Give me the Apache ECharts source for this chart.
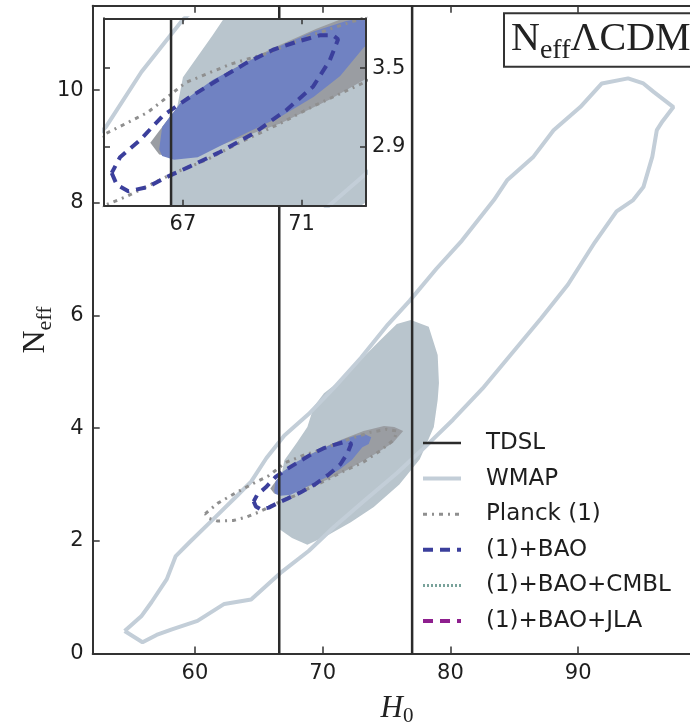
<!DOCTYPE html>
<html><head><meta charset="utf-8">
<script src="https://cdn.jsdelivr.net/npm/echarts@6/dist/echarts.min.js"></script>
<style>html,body{margin:0;padding:0;background:#fff}#c{width:690px;height:728px}</style>
</head><body><div id="c"></div>
<script>
// ---- data (H0, Neff) ----
const tdslH0 = [66.6, 77.0];

const wmapContour = [
  [54.5,0.40],[55.9,0.20],[57.0,0.33],[58.2,0.43],[60.2,0.58],[62.3,0.88],[64.4,0.96],
  [66.8,1.45],[68.9,1.82],[70.9,2.25],[73.3,2.72],[75.8,3.20],[77.8,3.62],[80.2,4.15],
  [82.5,4.70],[84.7,5.30],[87.1,5.95],[89.2,6.55],[91.3,7.30],[93.0,7.85],[94.3,8.05],
  [95.1,8.28],[95.8,8.82],[96.15,9.29],[96.6,9.45],[97.45,9.70],[95.9,9.97],[95.1,10.12],
  [93.9,10.21],[91.85,10.12],[90.16,9.70],[88.07,9.29],[86.5,8.82],[84.43,8.40],[83.4,8.05],
  [80.9,7.33],[78.9,6.83],[76.8,6.26],[75.1,5.84],[73.0,5.25],[70.9,4.72],[68.9,4.25],
  [67.0,3.87],[65.6,3.47],[64.4,3.05],[63.3,2.80],[61.6,2.42],[59.6,1.98],[58.5,1.73],
  [57.8,1.32],[56.6,0.91],[55.8,0.66],[54.5,0.40]
];

const tdslWmapFill = [
  [76.9,5.92],[78.3,5.80],[79.0,5.30],[79.1,4.80],[79.0,4.50],[78.7,4.02],[77.6,3.45],
  [76.0,3.00],[74.0,2.60],[72.2,2.33],[70.4,2.10],[68.8,1.93],[67.6,2.05],[66.65,2.20],
  [66.6,2.96],[67.0,3.43],[68.0,3.75],[68.8,4.02],[69.3,4.38],[70.1,4.62],[71.4,4.85],
  [73.0,5.22],[74.5,5.56],[75.8,5.85],[76.9,5.92]
];

const tdslPlanckFill = [
  [65.9,2.93],[66.6,3.14],[67.3,3.29],[68.5,3.47],[70.0,3.65],[71.5,3.80],[73.2,3.95],
  [74.8,4.04],[75.6,4.02],[76.3,3.95],[75.5,3.74],[74.3,3.57],[73.1,3.41],[71.95,3.26],
  [70.3,3.08],[68.0,2.89],[66.8,2.82],[66.2,2.84],[65.9,2.93]
];

const tdslBaoFill = [
  [66.2,2.88],[66.3,3.05],[66.9,3.23],[68.0,3.41],[69.1,3.54],[70.3,3.67],[71.4,3.78],
  [72.5,3.86],[73.3,3.89],[73.8,3.84],[73.6,3.72],[73.1,3.66],[72.3,3.44],[71.4,3.28],
  [70.3,3.13],[69.1,3.00],[68.2,2.90],[67.5,2.82],[66.7,2.80],[66.3,2.83],[66.2,2.88]
];

const planckContour = [
  [60.8,2.48],[61.8,2.67],[63.1,2.84],[64.4,3.00],[65.8,3.16],[67.1,3.39],[68.6,3.53],
  [69.8,3.61],[71.2,3.74],[72.5,3.84],[73.8,3.93],[75.0,3.98],[75.8,3.95],[75.6,3.80],
  [74.5,3.60],[73.2,3.40],[71.4,3.21],[70.3,3.08],[68.9,2.93],[67.8,2.80],[66.7,2.70],
  [65.1,2.52],[64.0,2.42],[63.0,2.36],[61.8,2.35],[61.1,2.40],[60.8,2.48]
];

const baoContour = [
  [64.6,2.70],[64.77,2.61],[65.16,2.56],[65.78,2.59],[66.56,2.68],[67.24,2.75],[68.25,2.86],
  [69.37,3.00],[70.49,3.18],[71.39,3.36],[71.95,3.56],[72.23,3.72],[72.06,3.75],[71.61,3.75],
  [70.83,3.70],[70.04,3.64],[69.14,3.54],[68.25,3.42],[67.24,3.28],[66.34,3.14],[65.55,2.95],
  [64.88,2.82],[64.6,2.70]
];

const cmblContour = [];
const jlaContour = [];

const xTicksMain = [60, 70, 80, 90];
const yTicksMain = [0, 2, 4, 6, 8, 10];
const xTicksInset = [67, 71];
const yTicksInset = [2.9, 3.5];

const mainRange = { xMin: 52, xMax: 100, yMin: 0, yMax: 11.5 };
const insetRange = { xMin: 64.34, xMax: 73.17, yMin: 2.45, yMax: 3.88 };

// ---- styles ----
const C = {
  axis: '#333', text: '#1e1e1e',
  lightFill: '#b9c5cd', darkFill: '#9a9da2', blueFill: '#7082c2',
  tdsl: '#2b2b2b', wmap: '#c3ced8', planck: '#8f8f8f', bao: '#3b3f9c',
  cmbl: '#7aa39b', jla: '#8e1f8e'
};
const sans = 'DejaVu Sans';
const serif = 'Liberation Serif';

function polySeries(poly, color, xi, yi, z) {
  return {
    type: 'custom', xAxisIndex: xi, yAxisIndex: yi, z: z, clip: true, silent: true,
    data: poly,
    renderItem: function (params, api) {
      if (params.dataIndex !== 0) return null;
      return { type: 'polygon', shape: { points: poly.map(p => api.coord(p)) }, style: { fill: color } };
    }
  };
}
function lineSeries(name, data, style, xi, yi, z) {
  return {
    name: name, type: 'line', xAxisIndex: xi, yAxisIndex: yi, z: z, clip: true,
    symbol: 'none', showSymbol: false, silent: true, animation: false,
    data: data, lineStyle: style, itemStyle: { color: style.color }
  };
}
const tdslStyle = { color: C.tdsl, width: 2.5, type: 'solid' };
const wmapStyle = { color: C.wmap, width: 4, type: 'solid' };
const planckStyle = { color: C.planck, width: 3, type: [4, 5, 2, 5] };
const baoStyle = { color: C.bao, width: 4, type: [10, 7] };
const cmblStyle = { color: C.cmbl, width: 3, type: [2, 2] };
const jlaStyle = { color: C.jla, width: 4, type: [10, 7] };

function layerSeries(xi, yi, z, rng) {
  const s = [];
  s.push(polySeries(tdslWmapFill, C.lightFill, xi, yi, z));
  s.push(polySeries(tdslPlanckFill, C.darkFill, xi, yi, z));
  s.push(polySeries(tdslBaoFill, C.blueFill, xi, yi, z));
  s.push(lineSeries('WMAP', wmapContour, wmapStyle, xi, yi, z));
  s.push(lineSeries('Planck (1)', planckContour, planckStyle, xi, yi, z));
  s.push(lineSeries('(1)+BAO', baoContour, baoStyle, xi, yi, z));
  tdslH0.forEach(h => {
    s.push(lineSeries('TDSL', [[h, rng.yMin], [h, rng.yMax]], tdslStyle, xi, yi, z));
  });
  s.push(lineSeries('(1)+BAO+CMBL', cmblContour, cmblStyle, xi, yi, z));
  s.push(lineSeries('(1)+BAO+JLA', jlaContour, jlaStyle, xi, yi, z));
  return s;
}

const axLine = { show: true, onZero: false, lineStyle: { color: C.axis, width: 2 } };
const tickStyle = { color: C.axis, width: 1.5 };
const labelBase = { fontSize: 21, color: C.text, fontFamily: sans };
const noSym = { color: 'rgba(0,0,0,0)', borderColor: 'rgba(0,0,0,0)', borderWidth: 0 };

const option = {
  animation: false,
  backgroundColor: '#fff',
  grid: [
    { left: 92.7, top: 5.7, right: -16, bottom: 74.5, show: false, containLabel: false, outerBoundsMode: 'none' },
    { left: 104, top: 18.3, width: 262, height: 187.4, show: true, backgroundColor: '#fff', borderWidth: 0, z: 10, containLabel: false, outerBoundsMode: 'none' }
  ],
  xAxis: [
    { gridIndex: 0, type: 'value', min: mainRange.xMin, max: mainRange.xMax, position: 'bottom',
      axisLine: axLine, splitLine: { show: false },
      axisTick: { inside: true, length: 7, customValues: xTicksMain, lineStyle: tickStyle },
      axisLabel: Object.assign({ customValues: xTicksMain, margin: 10 }, labelBase) },
    { gridIndex: 0, type: 'value', min: mainRange.xMin, max: mainRange.xMax, position: 'top',
      axisLine: axLine, splitLine: { show: false },
      axisTick: { inside: true, length: 7, customValues: xTicksMain, lineStyle: tickStyle },
      axisLabel: { show: false } },
    { gridIndex: 1, type: 'value', min: insetRange.xMin, max: insetRange.xMax, position: 'bottom', z: 12,
      axisLine: axLine, splitLine: { show: false },
      axisTick: { inside: true, length: 6, customValues: xTicksInset, lineStyle: tickStyle },
      axisLabel: Object.assign({ customValues: xTicksInset, margin: 8 }, labelBase) },
    { gridIndex: 1, type: 'value', min: insetRange.xMin, max: insetRange.xMax, position: 'top', z: 12,
      axisLine: axLine, splitLine: { show: false },
      axisTick: { inside: true, length: 6, customValues: xTicksInset, lineStyle: tickStyle },
      axisLabel: { show: false } }
  ],
  yAxis: [
    { gridIndex: 0, type: 'value', min: mainRange.yMin, max: mainRange.yMax, position: 'left',
      axisLine: axLine, splitLine: { show: false },
      axisTick: { inside: true, length: 7, customValues: yTicksMain, lineStyle: tickStyle },
      axisLabel: Object.assign({ customValues: yTicksMain, margin: 9 }, labelBase) },
    { gridIndex: 1, type: 'value', min: insetRange.yMin, max: insetRange.yMax, position: 'right', z: 12,
      axisLine: axLine, splitLine: { show: false },
      axisTick: { inside: true, length: 6, customValues: yTicksInset, lineStyle: tickStyle },
      axisLabel: Object.assign({ customValues: yTicksInset, margin: 6 }, labelBase) },
    { gridIndex: 1, type: 'value', min: insetRange.yMin, max: insetRange.yMax, position: 'left', z: 12,
      axisLine: axLine, splitLine: { show: false },
      axisTick: { inside: true, length: 6, customValues: yTicksInset, lineStyle: tickStyle },
      axisLabel: { show: false } }
  ],
  legend: {
    orient: 'vertical', left: 421, top: 431, padding: 0, itemWidth: 38, itemHeight: 14, itemGap: 11.6,
    selectedMode: false, itemStyle: noSym,
    textStyle: { fontSize: 23, color: C.text, fontFamily: sans, lineHeight: 24, padding: [0, 0, 0, 20] },
    data: [
      { name: 'TDSL', lineStyle: { width: 2.5 }, itemStyle: noSym },
      { name: 'WMAP', lineStyle: { width: 4 }, itemStyle: noSym },
      { name: 'Planck (1)', lineStyle: { width: 3 }, itemStyle: noSym },
      { name: '(1)+BAO', lineStyle: { width: 4 }, itemStyle: noSym },
      { name: '(1)+BAO+CMBL', lineStyle: { width: 3 }, itemStyle: noSym },
      { name: '(1)+BAO+JLA', lineStyle: { width: 4 }, itemStyle: noSym }
    ]
  },
  graphic: [
    { type: 'rect', z: 20, shape: { x: 504, y: 13.3, width: 220, height: 53.4 },
      style: { fill: '#fff', stroke: C.axis, lineWidth: 2 } },
    { type: 'text', z: 21, x: 511, y: 42,
      style: { text: '{n|N}{s|eff}{n|ΛCDM}', align: 'left', verticalAlign: 'middle',
        rich: { n: { fontSize: 40, fontFamily: serif, fill: '#222', verticalAlign: 'top' },
                s: { fontSize: 28, fontFamily: serif, fill: '#222', verticalAlign: 'top', padding: [17, 0, 0, 0] } } } },
    { type: 'text', z: 20, x: 38, y: 330, rotation: Math.PI / 2,
      style: { text: '{n|N}{s|eff}', align: 'center', verticalAlign: 'middle',
        rich: { n: { fontSize: 32, fontFamily: serif, fill: '#222', verticalAlign: 'top' },
                s: { fontSize: 22, fontFamily: serif, fill: '#222', verticalAlign: 'top', padding: [14, 0, 0, 0] } } } },
    { type: 'text', z: 20, x: 397, y: 710,
      style: { text: '{h|H}{s|0}', align: 'center', verticalAlign: 'middle',
        rich: { h: { fontSize: 31, fontFamily: serif, fontStyle: 'italic', fill: '#222', verticalAlign: 'top' },
                s: { fontSize: 21, fontFamily: serif, fill: '#222', verticalAlign: 'top', padding: [13, 0, 0, 0] } } } }
  ],
  series: [].concat(layerSeries(0, 0, 2, mainRange), layerSeries(2, 1, 11, insetRange))
};

const chart = echarts.init(document.getElementById('c'), null, { renderer: 'canvas' });
chart.setOption(option);
</script>
</body></html>
